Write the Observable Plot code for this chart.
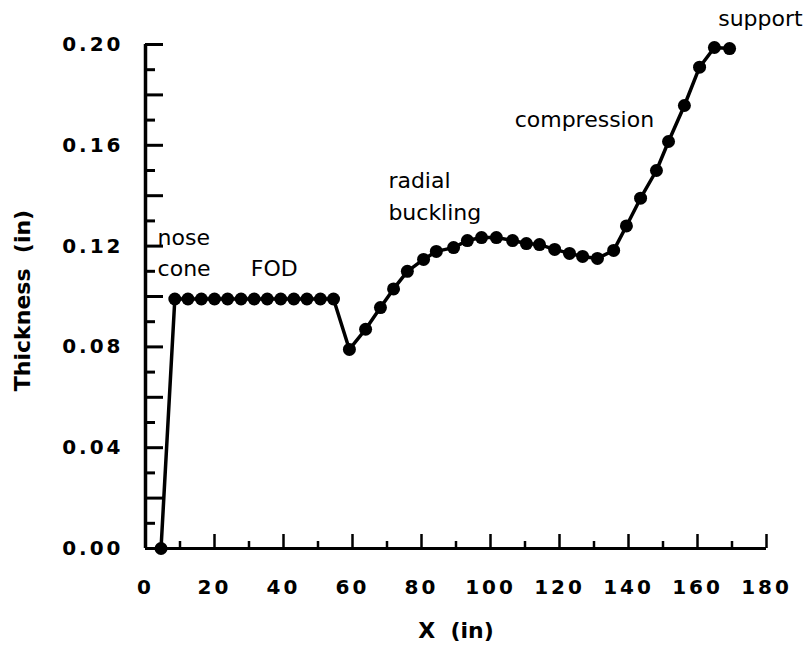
<!DOCTYPE html>
<html><head><meta charset="utf-8">
<script src="https://cdn.jsdelivr.net/npm/d3@7"></script>
<script src="https://cdn.jsdelivr.net/npm/@observablehq/plot@0.6"></script>
<style>
body{margin:0;background:#fff;}
#chart svg g[aria-label="text"]{letter-spacing:0;}
</style>
</head><body><div id="chart"></div>
<script>
// data
const xValues = [4.5, 8.5, 12.3, 16.2, 20, 23.8, 27.7, 31.5, 35.3, 39.2, 43, 46.8, 50.7, 54.5,
  59.1, 63.8, 68.1, 71.9, 75.9, 80.6, 84.3, 89.3, 93.3, 97.4, 101.7, 106.4, 110.4, 114.2,
  118.6, 122.9, 126.7, 131, 135.7, 139.4, 143.5, 148.1, 151.6, 156.2, 160.6, 164.9, 169.3];
const thickness = [0, 0.099, 0.099, 0.099, 0.099, 0.099, 0.099, 0.099, 0.099, 0.099, 0.099, 0.099, 0.099, 0.099,
  0.079, 0.087, 0.0956, 0.103, 0.110, 0.1147, 0.1179, 0.1194, 0.1222, 0.1234, 0.1234, 0.1222, 0.1210, 0.1206,
  0.1187, 0.1171, 0.1159, 0.1151, 0.1183, 0.128, 0.139, 0.150, 0.1615, 0.1758, 0.191, 0.1988, 0.1984];

const xTicks = [0, 20, 40, 60, 80, 100, 120, 140, 160, 180];
const xMinorTicks = [10, 30, 50, 70, 90, 110, 130, 150, 170];
const yTicks = [0, 0.04, 0.08, 0.12, 0.16, 0.20];
const yLongTicks = [0, 0.02, 0.04, 0.06, 0.08, 0.10, 0.12, 0.14, 0.16, 0.18, 0.20];
const yShortTicks = [0.01, 0.03, 0.05, 0.07, 0.09, 0.11, 0.13, 0.15, 0.17, 0.19];

const noteText = ["nose", "cone", "FOD", "radial", "buckling", "compression", "support"];
const noteX = [3.5, 3.5, 30.5, 70.4, 70.4, 107, 166];
const noteY = [0.1234, 0.111, 0.111, 0.146, 0.1333, 0.170, 0.2103];

const xLabel = "X\u00a0\u00a0(in)";
const yLabel = "Thickness\u00a0\u00a0(in)";

const points = xValues.map((x, i) => ({x, y: thickness[i]}));
const notes = noteText.map((t, i) => ({t, x: noteX[i], y: noteY[i]}));

const W = 807, H = 657, mL = 145, mR = 41, mT = 44, mB = 109;
const innerH = H - mT - mB, innerW = W - mL - mR;

const chart = Plot.plot({
  width: W, height: H,
  marginLeft: mL, marginRight: mR, marginTop: mT, marginBottom: mB,
  style: {fontSize: "20px", fontWeight: "bold", fontFamily: "'DejaVu Sans', Verdana, sans-serif", letterSpacing: "3px", background: "white", overflow: "visible"},
  x: {domain: [0, 180]},
  y: {domain: [0, 0.2]},
  marks: [
    Plot.axisX({ticks: xTicks, tickSize: 0, tickPadding: 31, label: null}),
    Plot.axisY({ticks: yTicks, tickSize: 0, tickPadding: 22, tickFormat: d3.format(".2f"), label: null}),
    Plot.ruleX(xTicks, {stroke: "black", strokeWidth: 2.5, insetTop: innerH - 14}),
    Plot.ruleX(xMinorTicks, {stroke: "black", strokeWidth: 2.5, insetTop: innerH - 7}),
    Plot.ruleY(yLongTicks, {stroke: "black", strokeWidth: 3, insetRight: innerW - 18}),
    Plot.ruleY(yShortTicks, {stroke: "black", strokeWidth: 3, insetRight: innerW - 10}),
    Plot.ruleY([0], {stroke: "black", strokeWidth: 3}),
    Plot.ruleX([0], {stroke: "black", strokeWidth: 3.5}),
    Plot.line(points, {x: "x", y: "y", stroke: "black", strokeWidth: 3.5}),
    Plot.dot(points, {x: "x", y: "y", r: 6.5, fill: "black", stroke: "none"}),
    Plot.text(notes, {x: "x", y: "y", text: "t", textAnchor: "start", fontSize: 22, fontWeight: "normal", fill: "black"}),
    Plot.text([xLabel], {frameAnchor: "bottom", dy: 89, fontSize: 22, fontWeight: "bold", fill: "black"}),
    Plot.text([yLabel], {frameAnchor: "left", textAnchor: "middle", dx: -123, dy: 4, rotate: -90, fontSize: 22, fontWeight: "bold", fill: "black"})
  ]
});
document.getElementById("chart").appendChild(chart);
</script>
</body></html>
